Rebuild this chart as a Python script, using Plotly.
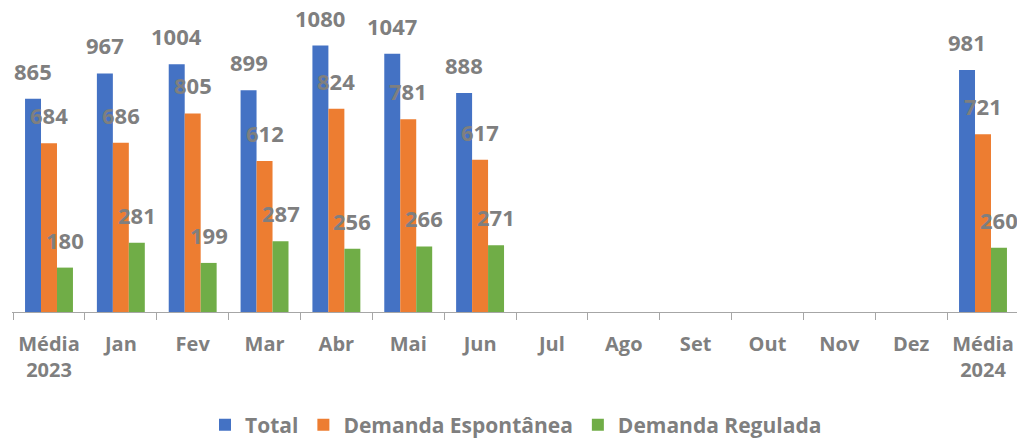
import plotly.graph_objects as go

categories = ["Média<br>2023", "Jan", "Fev", "Mar", "Abr", "Mai", "Jun", "Jul", "Ago", "Set", "Out", "Nov", "Dez", "Média<br>2024"]
total = [865, 967, 1004, 899, 1080, 1047, 888, None, None, None, None, None, None, 981]
espontanea = [684, 686, 805, 612, 824, 781, 617, None, None, None, None, None, None, 721]
regulada = [180, 281, 199, 287, 256, 266, 271, None, None, None, None, None, None, 260]

series = [
    ("Total", total, "#4472C4"),
    ("Demanda Espontânea", espontanea, "#ED7D31"),
    ("Demanda Regulada", regulada, "#70AD47"),
]

FONT = "Open Sans"
GRAY = "#7F7F7F"

fig = go.Figure()
for name, vals, color in series:
    fig.add_trace(go.Bar(x=categories, y=vals, name=name, marker_color=color,
                         marker_line_width=0))

offsets = [-16, 0, 16]
for (name, vals, color), dx in zip(series, offsets):
    for c, v in zip(categories, vals):
        if v is None:
            continue
        fig.add_annotation(x=c, y=v, xref="x", yref="y", text=str(v), showarrow=False,
                           xanchor="center", yanchor="bottom", xshift=dx, yshift=11,
                           font=dict(family=FONT, size=22, color=GRAY, weight="bold"))

# page body adds an 8px offset, so the figure is sized 8px smaller
fig.update_layout(
    width=1017, height=432,
    margin=dict(l=4, r=5, t=8, b=128, autoexpand=False),
    paper_bgcolor="white", plot_bgcolor="white",
    barmode="group", bargap=0.333, bargroupgap=0,
    showlegend=True,
    legend=dict(orientation="h", x=0.5, xanchor="center", y=-0.382, yanchor="middle",
                font=dict(family=FONT, size=21, color=GRAY, weight="bold"),
                itemwidth=30, tracegroupgap=0),
    font=dict(family=FONT, color=GRAY),
)
fig.update_xaxes(type="category", showline=True, linecolor="#A6A6A6", linewidth=1,
                 ticks="outside", tickson="boundaries", ticklen=7, tickcolor="#A6A6A6",
                 tickangle=0, automargin=False, ticklabelstandoff=14,
                 tickfont=dict(family=FONT, size=20, color=GRAY, weight="bold"),
                 showgrid=False, zeroline=False)
fig.update_yaxes(range=[0, 1200], visible=False, showgrid=False, zeroline=False)

fig.write_html("out.html")
